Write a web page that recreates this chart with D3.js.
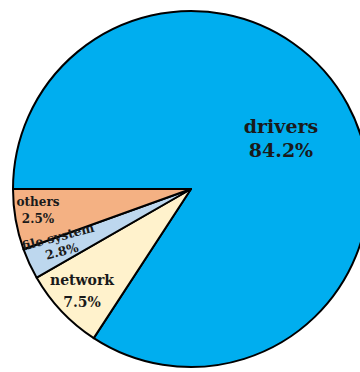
<!DOCTYPE html>
<html><head><meta charset="utf-8">
<script src="https://cdn.jsdelivr.net/npm/d3@7"></script>
<style>html,body{margin:0;padding:0;background:#fff;overflow:hidden}</style>
</head><body>
<svg id="c" width="360" height="372"></svg>
<script>
const categories = ["drivers", "network", "file system", "others"];
const sliceValues = [84.2, 7.5, 2.8, 5.5];
const labelValues = ["84.2%", "7.5%", "2.8%", "2.5%"];
const colors = ["#00AEEF", "#FFF2CC", "#BDD7EE", "#F4B183"];

const svg = d3.select("#c");
const cx = 191, cy = 189, r = 178;
const g = svg.append("g").attr("transform", `translate(${cx},${cy})`);

const pie = d3.pie().sort(null).value(d => d.v).startAngle(1.5 * Math.PI).endAngle(3.5 * Math.PI);
const data = categories.map((c, i) => ({c, v: sliceValues[i], lab: labelValues[i], col: colors[i]}));
const arcs = pie(data);
const arc = d3.arc().innerRadius(0).outerRadius(r);

svg.append("defs").append("clipPath").attr("id", "pc")
  .append("circle").attr("cx", 0).attr("cy", 0).attr("r", r - 1);

g.selectAll("path").data(arcs).enter().append("path")
  .attr("d", arc).attr("fill", d => d.data.col)
  .attr("stroke", "#000").attr("stroke-width", 2).attr("stroke-linejoin", "round");

const labelPos = {
  "drivers": {x: 90, y: -56, rot: 0, fs: 19, dy: 24},
  "network": {x: -109, y: 96, rot: 0, fs: 14, dy: 22},
  "file system": {x: -132, y: 52, rot: -15, fs: 12.5, dy: 15},
  "others": {x: -153, y: 17, rot: 0, fs: 12, dy: 17}
};
const lg = g.append("g").attr("clip-path", "url(#pc)");
arcs.forEach(a => {
  const p = labelPos[a.data.c];
  const t = lg.append("text")
    .attr("transform", `translate(${p.x},${p.y}) rotate(${p.rot})`)
    .attr("text-anchor", "middle")
    .attr("font-family", "DejaVu Serif, serif")
    .attr("font-weight", "bold")
    .attr("font-size", p.fs)
    .attr("fill", "#1a1a1a");
  t.append("tspan").attr("x", 0).attr("y", 0).text(a.data.c);
  t.append("tspan").attr("x", 0).attr("y", p.dy).text(a.data.lab);
});
</script>
</body></html>
